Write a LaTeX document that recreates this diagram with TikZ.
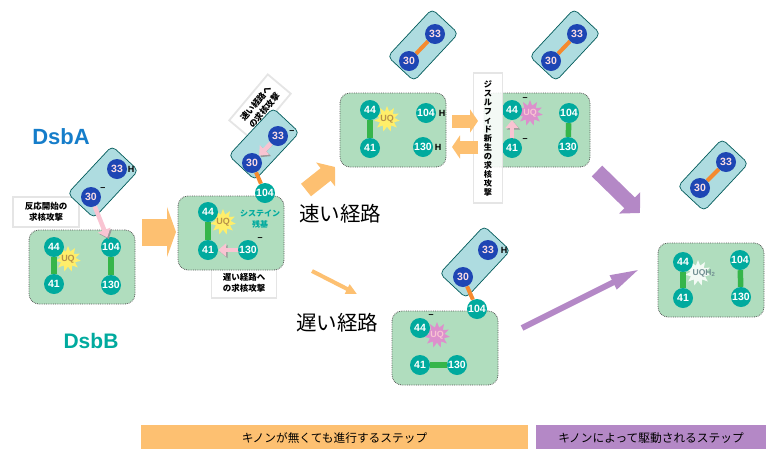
\documentclass[tikz,border=0pt]{standalone}
\usepackage{fontspec}
\usepackage{xcolor}
\usepackage{tikz}
\usetikzlibrary{arrows.meta}
\usetikzlibrary{shapes.geometric}
\setmainfont{Liberation Sans}
\newfontfamily\jpfont{Noto Sans CJK JP}
\definecolor{boxgreen}{HTML}{B0DDBE}
\definecolor{boxblue}{HTML}{AEDCE0}
\definecolor{cysteal}{HTML}{00AA9E}
\definecolor{cysblue}{HTML}{1E46B4}
\definecolor{ssgreen}{HTML}{36B54A}
\definecolor{ssorange}{HTML}{F58A2E}
\definecolor{stepor}{HTML}{FDC071}
\definecolor{steppu}{HTML}{B488C6}
\definecolor{atkpink}{HTML}{F9C4D2}
\definecolor{uqyellow}{HTML}{FFEE6A}
\definecolor{uqpink}{HTML}{DC90CC}
\definecolor{uqtext}{HTML}{B8924A}
\tikzset{
	dsbb/.style={draw=black!65,densely dotted,line width=0.8pt,fill=boxgreen,rounded corners=10pt,minimum width=106pt,minimum height=74pt},
	dsba/.style={draw=teal!70!black,line width=0.7pt,fill=boxblue,rounded corners=5pt,minimum width=65pt,minimum height=36pt,rotate=47},
	cysb/.style={circle,fill=cysteal,text=white,inner sep=0pt,minimum size=20pt,font=\bfseries\fontsize{10.5}{11}\selectfont},
	cysa/.style={circle,fill=cysblue,text=atkpink!60!white,inner sep=0pt,minimum size=20pt,font=\bfseries\fontsize{10.5}{11}\selectfont},
	ssb/.style={ssgreen,line width=5.5pt},
	ssa/.style={ssorange,line width=4pt},
	charge/.style={inner sep=0pt,font=\bfseries\fontsize{9}{9}\selectfont},
	quinone/.style={star,star points=11,star point ratio=1.7,minimum size=26pt,inner sep=0pt},
	uqname/.style={inner sep=0pt,font=\bfseries\fontsize{9}{9}\selectfont},
	attack/.style={atkpink,line width=4.5pt,-{Triangle[length=8pt,width=13pt]},
		preaction={draw=black!40,transform canvas={xshift=1.5pt,yshift=-1.5pt}}},
	note/.style={draw=black!10,line width=1.8pt,fill=white,align=center,inner sep=1pt,minimum width=66pt,minimum height=30pt,font=\jpfont\bfseries\fontsize{8.5}{11}\selectfont},
	route/.style={font=\jpfont\fontsize{20.5}{21}\selectfont},
	stepbar/.style={inner sep=0pt,minimum height=26pt,font=\jpfont\fontsize{11.7}{12}\selectfont},
}
\begin{document}
\begin{tikzpicture}[x=1pt,y=-1pt]
	\useasboundingbox (0,0) rectangle (766,448);
	\node[text=cysblue!70!cyan,font=\bfseries\fontsize{22}{22}\selectfont] (namea) at (61,137) {DsbA};
	\node[text=cysteal,font=\bfseries\fontsize{21}{21}\selectfont] (nameb) at (91,341) {DsbB};
	% first state
	\node[note] (n1) at (46,212) {反応開始の\\求核攻撃};
	\node[dsba] (a1) at (103,182) {};
	\node[dsbb] (b1) at (82,267) {};
	\node[quinone,fill=uqyellow] (b1q) at (68,259) {};
	\node[uqname,text=uqtext] (b1u) at (68,259) {UQ};
	\node[cysa] (a1c33) at (117,169) {33};
	\node[cysa] (a1c30) at (91,197) {30};
	\node[charge] (a1h) at (131,169) {H};
	\node[charge] (a1m) at (103,189) {--};
	\node[cysb] (b1c44) at (54,247) {44};
	\node[cysb] (b1c41) at (54,284) {41};
	\node[cysb] (b1c104) at (111,247) {104};
	\node[cysb] (b1c130) at (111,285) {130};
	\draw[ssb] (b1c44)--(b1c41);
	\draw[ssb] (b1c104)--(b1c130);
	\draw[attack] (a1c30)--(b1c104);
	% second state
	\coordinate (s1) at (142,232);
	\coordinate (e1) at (176,232);
	\draw[stepor,line width=27pt,-{Triangle[length=9pt,width=50pt]}] (s1)--(e1);
	\node[note,rotate=50,minimum width=60pt] (n2) at (260,107) {速い経路へ\\の求核攻撃};
	\node[dsba] (a2) at (264,144) {};
	\node[note,minimum width=65pt] (n3) at (244,283) {遅い経路へ\\の求核攻撃};
	\node[dsbb] (b2) at (231,233) {};
	\node[quinone,fill=uqyellow] (b2q) at (223,222) {};
	\node[uqname,text=uqtext] (b2u) at (223,222) {UQ};
	\node[cysa] (a2c33) at (278,136) {33};
	\node[cysa] (a2c30) at (252,163) {30};
	\node[charge] (a2m) at (292,132) {--};
	\node[cysb] (b2c44) at (208,212) {44};
	\node[cysb] (b2c41) at (208,250) {41};
	\node[cysb] (b2c104) at (265,193) {104};
	\node[cysb] (b2c130) at (248,250) {130};
	\node[charge] (b2m) at (260,239) {--};
	\node[text=cysteal,align=center,font=\jpfont\bfseries\fontsize{8}{11}\selectfont] (cyslabel) at (260,219) {システイン\\残基};
	\draw[ssb] (b2c44)--(b2c41);
	\draw[ssa] (a2c30)--(b2c104);
	\draw[attack] (a2c33)--(a2c30);
	\draw[attack] (b2c130)--(b2c41);
	\node[route] (fast) at (340,214) {速い経路};
	\node[route] (slow) at (337,323) {遅い経路};
	\coordinate (s2) at (306,190);
	\coordinate (e2) at (335,167);
	\draw[stepor,line width=16pt,-{Triangle[length=12pt,width=30pt]}] (s2)--(e2);
	\coordinate (s3) at (312,271);
	\coordinate (e3) at (357,294);
	\draw[stepor,line width=4pt,-{Triangle[length=11pt,width=10pt]}] (s3)--(e3);
	% fast route
	\node[dsba] (a3) at (423,45) {};
	\node[cysa] (a3c33) at (435,34) {33};
	\node[cysa] (a3c30) at (409,61) {30};
	\draw[ssa] (a3c30)--(a3c33);
	\node[dsbb] (b3) at (393,130) {};
	\node[quinone,fill=uqyellow] (b3q) at (387,119) {};
	\node[uqname,text=uqtext] (b3u) at (387,119) {UQ};
	\node[cysb] (b3c44) at (370,110) {44};
	\node[cysb] (b3c41) at (370,148) {41};
	\node[cysb] (b3c104) at (426,113) {104};
	\node[cysb] (b3c130) at (423,147) {130};
	\node[charge] (b3h1) at (442,113) {H};
	\node[charge] (b3h2) at (438,147) {H};
	\draw[ssb] (b3c44)--(b3c41);
	\node[dsba] (a4) at (565,45) {};
	\node[cysa] (a4c33) at (577,34) {33};
	\node[cysa] (a4c30) at (551,61) {30};
	\draw[ssa] (a4c30)--(a4c33);
	\node[dsbb] (b4) at (537,130) {};
	\node[quinone,fill=uqpink] (b4q) at (530,113) {};
	\node[uqname,text=atkpink] (b4u) at (530,113) {UQ};
	\node[cysb] (b4c44) at (512,110) {44};
	\node[cysb] (b4c41) at (512,148) {41};
	\node[cysb] (b4c104) at (569,113) {104};
	\node[cysb] (b4c130) at (568,147) {130};
	\node[charge] (b4m1) at (525,99) {--};
	\node[charge] (b4m2) at (525,140) {--};
	\draw[ssb] (b4c104)--(b4c130);
	\draw[attack] (b4c41)--(b4c44);
	\node[note,fill opacity=0.85,text opacity=1,minimum width=29pt,minimum height=130pt,line width=1.5pt,font=\jpfont\bfseries\fontsize{8.2}{9}\selectfont] (n4) at (488,138)
		{ジ\\ス\\ル\\フ\\ィ\\ド\\新\\生\\の\\求\\核\\攻\\撃};
	\coordinate (s4) at (452,121);
	\coordinate (e4) at (478,121);
	\draw[stepor,line width=13pt,-{Triangle[length=8pt,width=23pt]}] (s4)--(e4);
	\coordinate (s5) at (478,147);
	\coordinate (e5) at (452,147);
	\draw[stepor,line width=13pt,-{Triangle[length=8pt,width=23pt]}] (s5)--(e5);
	% slow route
	\node[dsba] (a5) at (475,262) {};
	\node[dsbb] (b5) at (445,348) {};
	\node[quinone,fill=uqpink] (b5q) at (437,335) {};
	\node[uqname,text=atkpink] (b5u) at (437,335) {UQ};
	\node[cysa] (a5c33) at (488,250) {33};
	\node[cysa] (a5c30) at (463,277) {30};
	\node[charge] (a5h) at (504,250) {H};
	\node[cysb] (b5c44) at (420,328) {44};
	\node[cysb] (b5c41) at (420,365) {41};
	\node[cysb] (b5c130) at (457,365) {130};
	\node[cysb] (b5c104) at (477,309) {104};
	\node[charge] (b5m) at (431,316) {--};
	\draw[ssb] (b5c41)--(b5c130);
	\draw[ssa] (a5c30)--(b5c104);
	% last state
	\coordinate (s6) at (597,171);
	\coordinate (e6) at (640,213);
	\draw[steppu,line width=15pt,-{Triangle[length=14.5pt,width=29pt]}] (s6)--(e6);
	\coordinate (s7) at (522,328);
	\coordinate (e7) at (640,269);
	\draw[steppu,line width=6pt,-{Triangle[length=30pt,width=14pt]}] (s7)--(e7);
	\node[dsba] (a6) at (713,175) {};
	\node[cysa] (a6c33) at (726,162) {33};
	\node[cysa] (a6c30) at (700,188) {30};
	\draw[ssa] (a6c30)--(a6c33);
	\node[dsbb] (b6) at (711,280) {};
	\node[quinone,fill=white!85!boxgreen] (b6q) at (698,273) {};
	\node[uqname,text=black!35!boxblue,font=\bfseries\fontsize{8.5}{9}\selectfont] (b6u) at (704,273) {UQH\textsubscript{2}};
	\node[cysb] (b6c44) at (683,262) {44};
	\node[cysb] (b6c41) at (683,298) {41};
	\node[cysb] (b6c104) at (740,260) {104};
	\node[cysb] (b6c130) at (741,297) {130};
	\draw[ssb] (b6c44)--(b6c41);
	\draw[ssb] (b6c104)--(b6c130);
	% step bars
	\node[stepbar,fill=stepor,minimum width=387pt] (bar1) at (334.5,438) {キノンが無くても進行するステップ};
	\node[stepbar,fill=steppu,minimum width=230pt] (bar2) at (651,438) {キノンによって駆動されるステップ};
\end{tikzpicture}
\end{document}
